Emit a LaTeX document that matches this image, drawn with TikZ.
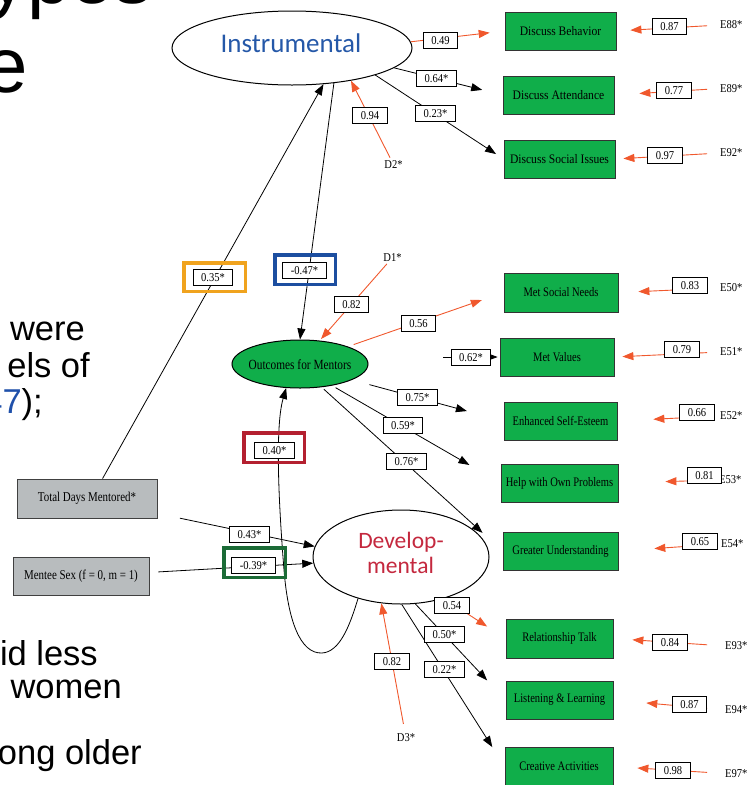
\documentclass[tikz,border=0pt]{standalone}
\usepackage{fontspec}
\setmainfont{Liberation Serif}
\newfontfamily\dgfont[FakeStretch=0.88]{Liberation Serif}
\newfontfamily\dgnarrow[FakeStretch=0.81]{Liberation Serif}
\newfontfamily\dgwide[FakeStretch=0.89]{Liberation Serif}
\newfontfamily\slfont{Liberation Sans}
\newfontfamily\latfont{Carlito}
\usetikzlibrary{arrows.meta,shapes.geometric}
\definecolor{boxgreen}{RGB}{16,174,74}
\definecolor{boxgray}{RGB}{184,188,190}
\definecolor{arrred}{RGB}{240,88,45}
\definecolor{instblue}{RGB}{37,88,168}
\definecolor{devred}{RGB}{196,40,62}
\definecolor{frorange}{RGB}{240,163,30}
\definecolor{frblue}{RGB}{28,78,160}
\definecolor{frred}{RGB}{180,32,48}
\definecolor{frgreen}{RGB}{27,107,54}
\definecolor{slblue}{RGB}{31,80,170}
\tikzset{
  gbox/.style={draw=black!80, line width=0.8pt, fill=boxgreen, minimum height=38pt, inner sep=0pt, font=\dgnarrow\fontsize{13}{15}\selectfont},
  gboxw/.style={gbox, font=\dgwide\fontsize{13}{15}\selectfont},
  graybox/.style={draw=black!75, line width=0.8pt, fill=boxgray, inner sep=0pt, font=\dgnarrow\fontsize{13.5}{15}\selectfont},
  latent/.style={ellipse, draw=black, line width=1pt, inner sep=0pt},
  coef/.style={draw=black, fill=white, line width=0.8pt, inner xsep=8pt, inner ysep=0pt, minimum height=16pt, text height=8pt, text depth=0pt, font=\dgfont\fontsize{12}{14}\selectfont},
  hl/.style={draw=#1, line width=3.5pt, inner sep=0pt},
  blk/.style={draw=black, line width=0.8pt, -{Triangle[length=11pt,width=8pt]}},
  redarr/.style={draw=arrred, line width=0.9pt, -{Triangle[length=11pt,width=8pt]}},
  tlab/.style={inner sep=0pt, font=\dgfont\fontsize{12}{14}\selectfont},
  slide/.style={inner sep=0pt, anchor=base east, font=\slfont\fontsize{34.5}{40}\selectfont},
  title/.style={inner sep=0pt, anchor=base east, font=\slfont\fontsize{78}{80}\selectfont},
}
\begin{document}
\begin{tikzpicture}[x=1pt,y=-1pt]
\useasboundingbox (0,0) rectangle (754,785);
\clip (0,0) rectangle (754,785);

% slide text (cropped)
\node[title] (t1) at (153,3) {ypes};
\node[title] (t2) at (28,92) {e};
\node[slide] (t3) at (85,340) {were};
\node[slide] (t4) at (90,377) {els of};
\node[slide] (t5) at (43,413) {\textcolor{slblue}{47});};
\node[slide] (t6) at (98,665) {id less};
\node[slide] (t7) at (122,698) {women};
\node[slide] (t8) at (142,764) {ong older};

% latent variables
\node[latent, minimum width=240pt, minimum height=74pt] (inst) at (292,48) {};
\node[inner sep=0pt, anchor=base, text=instblue, font=\latfont\fontsize{27}{30}\selectfont] (insttxt) at (291,52) {Instrumental};
\node[latent, fill=boxgreen, minimum width=136pt, minimum height=48pt] (out) at (300,364) {};
\node[inner sep=0pt, font=\dgnarrow\fontsize{14}{16}\selectfont] (outtxt) at (300,365) {Outcomes for Mentors};
\node[latent, minimum width=176pt, minimum height=94pt] (dev) at (401,557) {};
\node[inner sep=0pt, anchor=base, text=devred, font=\latfont\fontsize{23.5}{26}\selectfont] (dev1) at (401,548) {Develop-};
\node[inner sep=0pt, anchor=base, text=devred, font=\latfont\fontsize{23.5}{26}\selectfont] (dev2) at (400.5,573) {mental};

% observed variables
\node[gboxw, minimum width=111pt] (db) at (560.5,31) {Discuss Behavior};
\node[gboxw, minimum width=111pt] (da) at (558.5,95) {Discuss Attendance};
\node[gboxw, minimum width=111pt] (dsi) at (559.5,159) {Discuss Social Issues};
\node[gbox, minimum width=114pt, minimum height=39pt] (msn) at (561,292.5) {Met Social Needs};
\node[gbox, minimum width=114pt] (mv) at (557,357) {Met Values};
\node[gbox, minimum width=113pt] (ese) at (560.5,421) {Enhanced Self-Esteem};
\node[gbox, minimum width=117pt] (hwop) at (559.5,483) {Help with Own Problems};
\node[gbox, minimum width=115pt] (gu) at (560.5,551) {Greater Understanding};
\node[gbox, minimum width=107pt, minimum height=39pt] (rt) at (559.5,638.5) {Relationship Talk};
\node[gbox, minimum width=107pt] (ll) at (559.5,700) {Listening \& Learning};
\node[gbox, minimum width=108pt, minimum height=39pt] (ca) at (559,766.5) {Creative Activities};

\node[graybox, minimum width=140pt, minimum height=39pt] (tdm) at (87,498.5) {Total Days Mentored*};
\node[graybox, minimum width=136pt, minimum height=38pt] (ms) at (81,576) {Mentee Sex (f = 0, m = 1)};

% disturbances and errors
\node[tlab] (d1) at (392.5,257.5) {D1*};
\node[tlab] (d2) at (393.5,164.5) {D2*};
\node[tlab] (d3) at (406,738) {D3*};
\node[tlab, anchor=west] (e88) at (720,25) {E88*};
\node[tlab, anchor=west] (e89) at (720,88.5) {E89*};
\node[tlab, anchor=west] (e92) at (720,153) {E92*};
\node[tlab, anchor=west] (e50) at (720,288) {E50*};
\node[tlab, anchor=west] (e51) at (720,352) {E51*};
\node[tlab, anchor=west] (e52) at (720,416) {E52*};
\node[tlab, anchor=west] (e53) at (719,480) {E53*};
\node[tlab, anchor=west] (e54) at (721,544) {E54*};
\node[tlab, anchor=west] (e93) at (725,646) {E93*};
\node[tlab, anchor=west] (e94) at (725,710) {E94*};
\node[tlab, anchor=west] (e97) at (725,773.5) {E97*};

% structural paths
\draw[blk] (tdm.52) -- (inst.-49);
\draw[blk] (inst.-40) -- (out.north);
\draw[redarr, shorten >=15pt] (inst.3) -- (db.west);
\draw[blk, shorten >=21pt] (inst.-11) -- (da.west);
\draw[blk, shorten >=9pt] (inst.-18) -- (dsi.west);
\draw[redarr, shorten <=3pt] (d2) -- (inst.-29);
\draw[redarr, shorten <=3pt, shorten >=2pt] (d1) -- (out.50);
\draw[redarr, shorten <=6pt, shorten >=23pt] (out.20) -- (msn.west);
\coordinate (mvs) at (443,357);
\draw[blk, shorten >=2pt] (mvs) -- (mv.west);
\draw[blk, shorten <=18pt, shorten >=38pt] (out.-17) -- (ese.west);
\draw[blk, shorten <=4pt, shorten >=36pt] (out.-34) -- (hwop.west);
\draw[blk, shorten <=3pt, shorten >=27pt] (out.-47) -- (gu.west);
\draw[blk, shorten <=23pt] (tdm.-12) -- (dev.173);
\draw[blk, shorten <=9pt] (ms.3) -- (dev.184);
\draw[blk] (dev.224) .. controls (350,625) and (340,652) .. (322,653)
  .. controls (300,654) and (288,620) .. (284,570)
  .. controls (280,520) and (274,430) .. (out.240);
\draw[redarr, shorten >=22pt] (dev.-44) -- (rt.west);
\draw[blk, shorten >=27pt] (dev.-73) -- (ll.west);
\draw[blk, shorten >=23pt] (dev.-89) -- (ca.west);
\draw[redarr, shorten <=10pt] (d3) -- (dev.-113);

% error paths
\draw[redarr, shorten <=13pt, shorten >=14pt] (e88.west) -- (db.east);
\draw[redarr, shorten <=13pt, shorten >=25pt] (e89.west) -- (da.east);
\draw[redarr, shorten <=13pt, shorten >=8pt] (e92.west) -- (dsi.east);
\draw[redarr, shorten <=20pt, shorten >=20pt] (e50.west) -- (msn.east);
\draw[redarr, shorten <=13pt, shorten >=8pt] (e51.west) -- (mv.east);
\draw[redarr, shorten <=25pt, shorten >=36pt] (e52.west) -- (ese.east);
\draw[redarr, shorten <=5pt, shorten >=47pt] (e53.west) -- (hwop.east);
\draw[redarr, shorten <=10pt, shorten >=36pt] (e54.west) -- (gu.east);
\draw[redarr, shorten <=18pt, shorten >=19pt] (e93.west) -- (rt.east);
\draw[redarr, shorten <=18pt, shorten >=33pt] (e94.west) -- (ll.east);
\draw[redarr, shorten <=18pt, shorten >=24pt] (e97.west) -- (ca.east);

% highlight frames
\node[hl=frorange, minimum width=61.5pt, minimum height=28.5pt] (fo) at (214.5,277) {};
\node[hl=frblue, minimum width=60.5pt, minimum height=29.5pt] (fb) at (305,269.5) {};
\node[hl=frred, minimum width=60.5pt, minimum height=29.5pt] (fr) at (274,447.5) {};
\node[hl=frgreen, minimum width=61.5pt, minimum height=29.5pt] (fg) at (254.5,562.5) {};

% coefficients
\node[coef] (c49) at (440.5,40) {0.49};
\node[coef] (c64) at (436.5,78) {0.64*};
\node[coef] (c23) at (435.5,113.5) {0.23*};
\node[coef] (c94) at (370,115.5) {0.94};
\node[coef] (c47) at (304.5,270.5) {-0.47*};
\node[coef] (c35) at (213,277) {0.35*};
\node[coef] (c82a) at (351.5,304) {0.82};
\node[coef] (c56) at (418.5,323) {0.56};
\node[coef] (c62) at (471,357.5) {0.62*};
\node[coef] (c75) at (417.5,397.5) {0.75*};
\node[coef] (c59) at (403,425.5) {0.59*};
\node[coef] (c76) at (406.5,461) {0.76*};
\node[coef] (c40) at (274.5,450) {0.40*};
\node[coef] (c43) at (249.5,534) {0.43*};
\node[coef] (c39) at (253.5,565.5) {-0.39*};
\node[coef] (c54) at (452,605.5) {0.54};
\node[coef] (c50) at (444.5,634.5) {0.50*};
\node[coef] (c22) at (444.5,669.5) {0.22*};
\node[coef] (c82b) at (392,661) {0.82};

\node[coef] (v88) at (669.5,26) {0.87};
\node[coef] (v89) at (674,90.5) {0.77};
\node[coef] (v92) at (665,155) {0.97};
\node[coef] (v50) at (690,285) {0.83};
\node[coef] (v51) at (682,349) {0.79};
\node[coef] (v52) at (697,412.5) {0.66};
\node[coef] (v53) at (704.5,475.5) {0.81};
\node[coef] (v54) at (700,541.5) {0.65};
\node[coef] (v93) at (670,642.5) {0.84};
\node[coef] (v94) at (689.5,704.5) {0.87};
\node[coef] (v97) at (673,770) {0.98};
\end{tikzpicture}
\end{document}
